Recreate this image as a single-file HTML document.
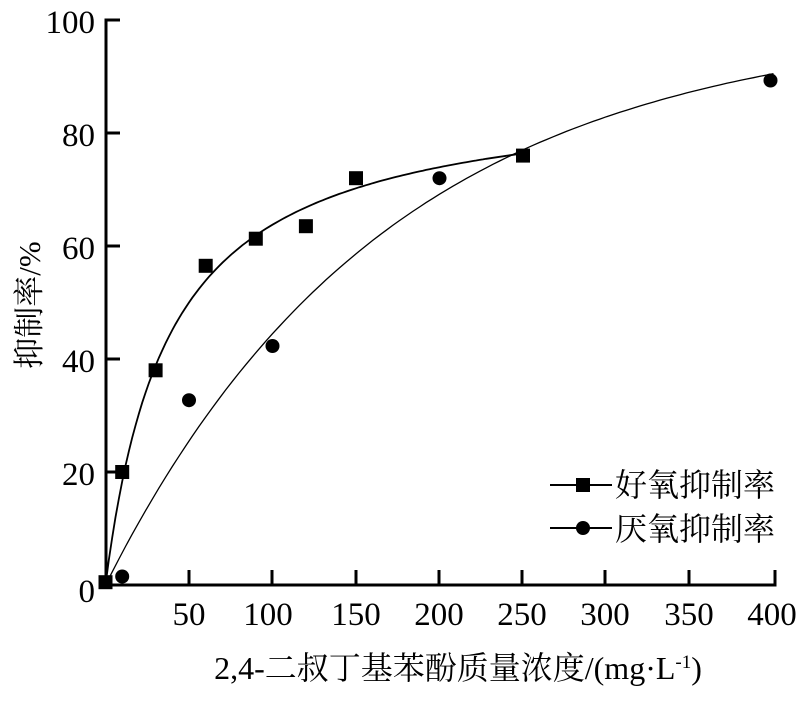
<!DOCTYPE html><html><head><meta charset="utf-8"><style>body{margin:0;background:#fff}svg{display:block}text{font-family:"Liberation Serif","Noto Serif CJK SC",serif;fill:#000}</style></head><body>
<svg width="805" height="705" viewBox="0 0 805 705" xmlns="http://www.w3.org/2000/svg">
<g stroke="#000" stroke-width="3" fill="none">
<path d="M120,20 H106 V585 H775 V570"/>
<path d="M106,133 H120 M106,246 H120 M106,359 H120 M106,472 H120"/>
<path d="M189,585 V570 M272,585 V570 M356,585 V570 M439,585 V570 M522,585 V570 M605,585 V570 M689,585 V570"/>
</g>
<g font-size="33" text-anchor="end">
<text x="95" y="33">100</text><text x="95" y="146">80</text><text x="95" y="259">60</text><text x="95" y="372">40</text><text x="95" y="485">20</text><text x="95" y="602">0</text>
</g>
<g font-size="33" text-anchor="middle">
<text x="189" y="625">50</text><text x="268" y="625">100</text><text x="356" y="625">150</text><text x="439" y="625">200</text><text x="522" y="625">250</text><text x="605" y="625">300</text><text x="689" y="625">350</text><text x="772" y="625">400</text>
</g>
<text x="458" y="679" font-size="32" text-anchor="middle">2,4-二叔丁基苯酚质量浓度/(mg·L<tspan font-size="19" dy="-11">-1</tspan><tspan dy="11">)</tspan></text>
<text transform="translate(40,305) rotate(-90)" font-size="31" text-anchor="middle">抑制率/%</text>
<path id="a" fill="none" stroke="#000" stroke-width="1.8" d=""/>
<path id="b" fill="none" stroke="#000" stroke-width="1.3" d=""/>
<g fill="#000">
<rect x="98.5" y="575.2" width="14" height="14"/>
<rect x="115.2" y="465" width="14" height="14"/>
<rect x="148.6" y="363.3" width="14" height="14"/>
<rect x="198.7" y="258.8" width="14" height="14"/>
<rect x="248.8" y="231.7" width="14" height="14"/>
<rect x="298.9" y="219.2" width="14" height="14"/>
<rect x="349" y="171.2" width="14" height="14"/>
<rect x="516" y="148.6" width="14" height="14"/>
<circle cx="122.2" cy="576.5" r="7"/>
<circle cx="189" cy="400.2" r="7"/>
<circle cx="272.5" cy="346" r="7"/>
<circle cx="439.5" cy="178.2" r="7"/>
<circle cx="770.5" cy="80.5" r="7"/>
</g>
<g stroke="#000" stroke-width="2"><path d="M550,485 H612 M550,528 H612"/></g>
<rect x="576" y="478" width="14" height="14"/><circle cx="583" cy="528" r="7"/>
<text x="615" y="496" font-size="32">好氧抑制率</text>
<text x="615" y="540" font-size="32">厌氧抑制率</text>
<script>
function X(v){return 105.5+v*1.67}function Y(v){return 585-v*5.65}
var d="";for(var x=0;x<=250;x+=2){var y=88*x/(38+x);d+=(x?"L":"M")+X(x).toFixed(1)+","+Y(y).toFixed(1)}
document.getElementById("a").setAttribute("d",d);
d="";for(var x=0;x<=400;x+=4){var y=100*(1-Math.exp(-x/170));d+=(x?"L":"M")+X(x).toFixed(1)+","+Y(y).toFixed(1)}
document.getElementById("b").setAttribute("d",d);
</script>
</svg></body></html>
